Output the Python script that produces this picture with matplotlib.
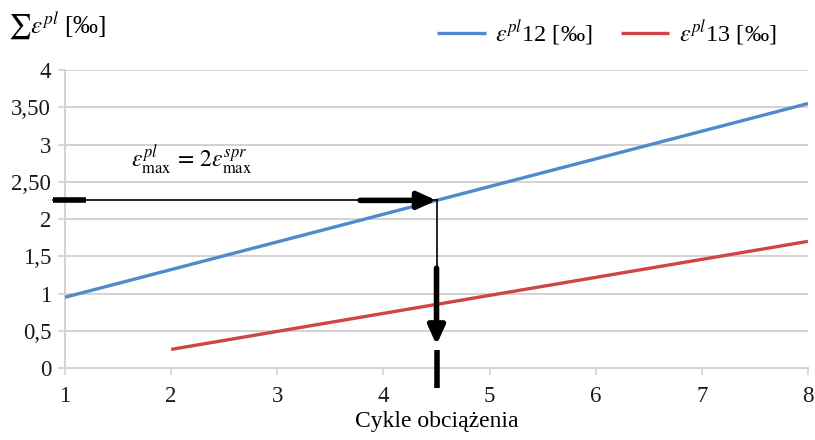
import matplotlib
matplotlib.use("Agg")
import matplotlib.pyplot as plt
from matplotlib.patches import Rectangle
import numpy as np

plt.rcParams['font.family'] = ['Liberation Serif', 'DejaVu Serif']
plt.rcParams['mathtext.fontset'] = 'stix'

# Data
cycles_12 = [1, 8]
eps12 = [0.95, 3.55]
cycles_13 = [2, 8]
eps13 = [0.25, 1.70]
xticks = [1, 2, 3, 4, 5, 6, 7, 8]
yticks = [0, 0.5, 1, 1.5, 2, 2.5, 3, 3.5, 4]
ytick_labels = ["0", "0,5", "1", "1,5", "2", "2,50", "3", "3,50", "4"]
x_cross = 4.5

blue = "#4F8ACB"
red = "#CE4646"
grid_c = "#D2D2D2"

fig = plt.figure(figsize=(8.15, 4.4), dpi=100)
ax = fig.add_axes([0.0798, 0.1636, 0.9116, 0.6773])
ax.set_xlim(1, 8)
ax.set_ylim(0, 4)

ax.set_yticks(yticks)
ax.set_yticklabels(ytick_labels)
ax.set_xticks(xticks)
ax.set_xticklabels([str(t) for t in xticks])
ax.tick_params(axis='both', labelsize=16.5, length=5, width=1.2,
               direction='out', color=grid_c)
ax.tick_params(axis='y', pad=5)
ax.tick_params(axis='x', pad=8)
for lbl in ax.get_xticklabels() + ax.get_yticklabels():
    lbl.set_color("#1a1a1a")

ax.grid(axis='y', color=grid_c, linewidth=1.4, zorder=0)
ax.set_axisbelow(True)
for s in ['top', 'right']:
    ax.spines[s].set_visible(False)
ax.spines['left'].set_color(grid_c)
ax.spines['bottom'].set_color(grid_c)
ax.spines['left'].set_linewidth(1.4)
ax.spines['bottom'].set_linewidth(1.4)

# white patch interrupting gridlines behind annotation text
ax.add_patch(Rectangle((1.01, 2.4), 2.23, 0.75, facecolor='white',
                       edgecolor='none', zorder=0.5))

l1, = ax.plot(cycles_12, eps12, color=blue, lw=2.4, zorder=3,
              solid_capstyle='butt')
l2, = ax.plot(cycles_13, eps13, color=red, lw=2.4, zorder=3,
              solid_capstyle='butt')

y_cross = float(np.interp(x_cross, cycles_12, eps12))

head = '-|>,head_length=1.1,head_width=0.5'
# horizontal arrow
ax.plot([0.887, x_cross], [y_cross, y_cross], color='black', lw=1.2,
        clip_on=False, zorder=4)
ax.plot([0.887, 1.2], [y_cross, y_cross], color='black', lw=4,
        clip_on=False, zorder=4, solid_capstyle='butt')
ax.annotate("", xy=(x_cross, y_cross), xytext=(3.78, y_cross),
            arrowprops=dict(arrowstyle=head, lw=4, color='black',
                            shrinkA=0, shrinkB=0),
            zorder=5)
# vertical arrow
ax.plot([x_cross, x_cross], [y_cross, 1.3], color='black', lw=1.2, zorder=4)
ax.annotate("", xy=(x_cross, 0.31), xytext=(x_cross, 1.34),
            arrowprops=dict(arrowstyle=head, lw=4, color='black',
                            shrinkA=0, shrinkB=0),
            zorder=5)
ax.plot([x_cross, x_cross], [0.24, -0.27], color='black', lw=4,
        clip_on=False, zorder=5, solid_capstyle='butt')

ax.text(1.62, 2.79, r'$\varepsilon^{pl}_{\max}\,=\,2\varepsilon^{spr}_{\max}$',
        fontsize=17, ha='left', va='center', zorder=6)

ax.set_xlabel("Cykle obciążenia", fontsize=17, labelpad=3)
fig.text(0.01, 0.94, r'$\sum\varepsilon^{pl}$ [‰]', fontsize=18,
         ha='left', va='center')

leg = fig.legend([l1, l2], [r'$\varepsilon^{pl}$12 [‰]', r'$\varepsilon^{pl}$13 [‰]'],
                 loc='center right', bbox_to_anchor=(0.965, 0.925), ncol=2,
                 frameon=False, fontsize=17.5, handlelength=2.0, columnspacing=1.15,
                 handletextpad=0.4, borderaxespad=0)

fig.savefig("out.png", dpi=100)
